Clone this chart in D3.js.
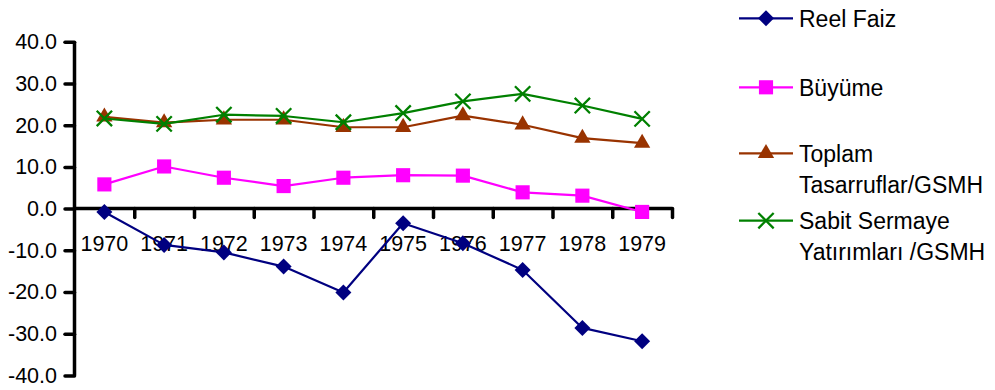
<!DOCTYPE html>
<html>
<head>
<meta charset="utf-8">
<script src="https://cdn.jsdelivr.net/npm/d3@7"></script>
<style>
  html, body { margin: 0; padding: 0; background: #fff; }
  svg { display: block; }
  text { font-family: "Liberation Sans", Arial, Helvetica, sans-serif; fill: #000; }
</style>
</head>
<body>
<svg id="chart" width="995" height="390"></svg>
<script>
// Years on the category axis
const years = ["1970", "1971", "1972", "1973", "1974", "1975", "1976", "1977", "1978", "1979"];

// Series values (%)
const reelFaiz   = [-0.8, -8.7, -10.5, -13.9, -20.1, -3.5, -8.3, -14.7, -28.6, -31.8];
const buyume     = [5.8, 10.1, 7.4, 5.4, 7.4, 8.0, 7.9, 3.9, 3.1, -0.8];
const toplamTas  = [22.0, 20.6, 21.3, 21.3, 19.5, 19.5, 22.3, 20.1, 16.9, 15.7];
const sabitSerm  = [21.6, 20.3, 22.5, 22.2, 20.7, 22.9, 25.7, 27.5, 24.7, 21.5];

// Y axis tick values
const yTicks = [-40, -30, -20, -10, 0, 10, 20, 30, 40];

// Legend labels (multi-line entries are split into lines)
const seriesNames = [["Reel Faiz"], ["Büyüme"], ["Toplam", "Tasarruflar/GSMH"], ["Sabit Sermaye", "Yatırımları /GSMH"]];

const series = [
  { values: reelFaiz,  name: seriesNames[0], color: "#000080", symbol: "diamond"  },
  { values: buyume,    name: seriesNames[1], color: "#FF00FF", symbol: "square"   },
  { values: toplamTas, name: seriesNames[2], color: "#993300", symbol: "triangle" },
  { values: sabitSerm, name: seriesNames[3], color: "#008000", symbol: "x"        }
];

const svg = d3.select("#chart");

const x = d3.scaleBand().domain(years).range([74.5, 672]).paddingInner(0).paddingOuter(0);
const xEdges = d3.scaleLinear().domain([0, years.length]).range([74.5, 672]);
const y = d3.scaleLinear().domain([-40, 40]).range([375.5, 41.7]);

const axisColor = "#000";

// Y axis
const yAxis = svg.append("g")
  .attr("transform", `translate(${x.range()[0]},0)`)
  .call(d3.axisLeft(y).tickValues(yTicks).tickSize(9.5).tickPadding(8)
    .tickFormat(v => v.toFixed(1)));
yAxis.select(".domain").attr("stroke", axisColor).attr("stroke-width", 3.5)
  .attr("d", `M0,${y(-40)}V${y(40)}`);
yAxis.selectAll(".tick line").attr("stroke", axisColor).attr("stroke-width", 3.5)
  .attr("stroke-linecap", "round");
yAxis.selectAll(".tick text").style("font-size", "21.5px").attr("fill", "#000")
  .style("font-family", "'Liberation Sans', Arial, sans-serif");

// X axis line at zero with ticks on category boundaries
const xTickAxis = svg.append("g")
  .attr("transform", `translate(0,${y(0)})`)
  .call(d3.axisBottom(xEdges).tickValues(d3.range(1, years.length + 1)).tickSize(9).tickFormat(""));
xTickAxis.select(".domain").attr("stroke", axisColor).attr("stroke-width", 3.5)
  .attr("d", `M${xEdges(0)},0H${xEdges(years.length)}`);
xTickAxis.selectAll(".tick line").attr("stroke", axisColor).attr("stroke-width", 3.5)
  .attr("stroke-linecap", "round");

// Category labels
const xLabels = svg.append("g")
  .attr("transform", `translate(0,${y(0)})`)
  .call(d3.axisBottom(x).tickSize(0).tickPadding(27));
xLabels.select(".domain").remove();
xLabels.selectAll(".tick text").style("font-size", "21.5px").attr("fill", "#000")
  .style("font-family", "'Liberation Sans', Arial, sans-serif");

// Marker shapes
function markerPath(kind) {
  switch (kind) {
    case "diamond":  return d3.symbol(d3.symbolSquare, 128)();
    case "square":   return d3.symbol(d3.symbolSquare, 200)();
    case "triangle": return d3.symbol(d3.symbolTriangle, 115)();
    case "x":        return d3.symbol(d3.symbolX, 155)();
  }
}
function drawMarker(g, kind, color, cx, cy) {
  const p = g.append("path")
    .attr("d", markerPath(kind))
    .attr("transform", `translate(${cx},${cy})` + (kind === "diamond" ? " rotate(45)" : ""));
  if (kind === "x") {
    p.attr("fill", "none").attr("stroke", color).attr("stroke-width", 2.3);
  } else {
    p.attr("fill", color).attr("stroke", "none");
  }
}

const cx = d => x(d) + x.bandwidth() / 2;

// Series lines and markers
series.forEach(s => {
  const g = svg.append("g");
  const line = d3.line().x((v, i) => cx(years[i])).y(v => y(v));
  g.append("path")
    .attr("d", line(s.values))
    .attr("fill", "none")
    .attr("stroke", s.color)
    .attr("stroke-width", 2.2)
    .attr("stroke-linejoin", "round");
  s.values.forEach((v, i) => drawMarker(g, s.symbol, s.color, cx(years[i]), y(v)));
});

// Legend
const legendRows = [18.3, 87.3, 153.3, 220.7];
const legend = svg.append("g");
series.forEach((s, i) => {
  const ly = legendRows[i];
  legend.append("line")
    .attr("x1", 739).attr("x2", 793).attr("y1", ly).attr("y2", ly)
    .attr("stroke", s.color).attr("stroke-width", 2.2);
  drawMarker(legend, s.symbol, s.color, 766, ly);
  const t = legend.append("text")
    .attr("x", 799).attr("y", ly + 8.3)
    .style("font-size", "23px");
  s.name.forEach((line, k) => {
    t.append("tspan").attr("x", 799).attr("dy", k === 0 ? 0 : 31).text(line);
  });
});
</script>
</body>
</html>
